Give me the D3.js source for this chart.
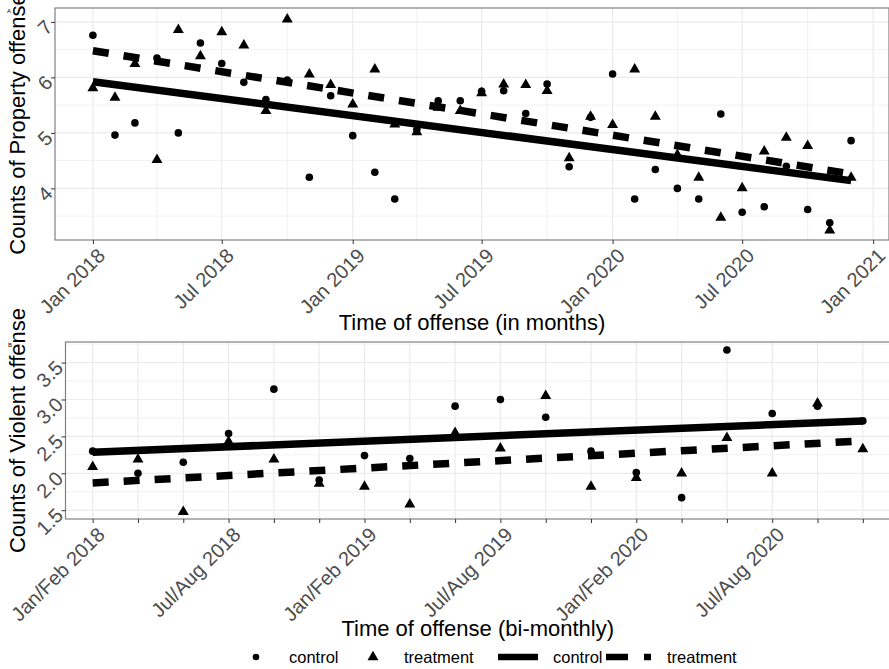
<!DOCTYPE html>
<html><head><meta charset="utf-8">
<script src="https://cdn.jsdelivr.net/npm/d3@7"></script>
<style>
body{margin:0;background:#fff;}
svg{display:block;font-family:"Liberation Sans",Arial,sans-serif;}
</style></head>
<body>
<svg id="chart" width="889" height="669"></svg>
<script>
// ---------- DATA ----------
// Panel A: monthly property offenses, Jan 2018 .. Dec 2020
const monthsA = d3.range(36).map(i => new Date(2018, i, 1));
const propControl = [6.76,4.96,5.18,6.35,5.00,6.62,6.25,5.91,5.60,5.95,4.20,5.67,
                     4.95,4.29,3.81,5.06,5.58,5.58,5.75,5.76,5.35,5.88,4.39,5.28,
                     6.06,3.81,4.34,4.00,3.81,5.34,3.57,3.67,4.40,3.62,3.38,4.86];
const propTreatment = [5.82,5.65,6.26,4.53,6.87,6.40,6.83,6.59,5.41,7.06,6.07,5.88,
                       5.53,6.16,5.17,5.03,5.47,5.41,5.73,5.89,5.88,5.77,4.56,5.31,
                       5.16,6.16,5.31,4.62,4.21,3.49,4.02,4.68,4.93,4.78,3.26,4.21];
const propFitControl = [5.92, 4.14];     // fitted line at first / last month
const propFitTreatment = [6.48, 4.26];
const yTicksA = [4, 5, 6, 7];
const xTicksA = d3.range(7).map(i => new Date(2018, i * 6, 1));

// Panel B: bi-monthly violent offenses
const binsB = ["Jan/Feb 2018","Mar/Apr 2018","May/Jun 2018","Jul/Aug 2018","Sep/Oct 2018","Nov/Dec 2018",
               "Jan/Feb 2019","Mar/Apr 2019","May/Jun 2019","Jul/Aug 2019","Sep/Oct 2019","Nov/Dec 2019",
               "Jan/Feb 2020","Mar/Apr 2020","May/Jun 2020","Jul/Aug 2020","Sep/Oct 2020","Nov/Dec 2020"];
const violControl = [2.30,2.00,2.15,2.54,3.14,1.91,2.24,2.20,2.91,3.00,2.76,2.30,2.01,1.67,3.67,2.81,2.91,2.71];
const violTreatment = [2.10,2.20,1.49,2.44,2.20,1.87,1.83,1.59,2.56,2.35,3.06,1.83,1.95,2.01,2.49,2.01,2.96,2.34];
const violFitControl = [2.285, 2.71];
const violFitTreatment = [1.87, 2.44];
const yTicksB = [1.5, 2.0, 2.5, 3.0, 3.5];
const xLabelsB = ["Jan/Feb 2018","Jul/Aug 2018","Jan/Feb 2019","Jul/Aug 2019","Jan/Feb 2020","Jul/Aug 2020"];

// ---------- DRAW ----------
const svg = d3.select("#chart");
const GRID = "#ebebeb", BORDER = "#808080", TICKC = "#4d4d4d";
const TICKFS = 20, TITLEFS = 22, LW = 7.5;
const triPath = d3.symbol().type(d3.symbolTriangle).size(52)();

function expand(ext, f = 0.05) { const r = ext[1] - ext[0]; return [ext[0] - r * f, ext[1] + r * f]; }

function panelFrame(g, L, R, T, B) {
  g.append("rect").attr("x", L).attr("y", T).attr("width", R - L).attr("height", B - T)
    .attr("fill", "none").attr("stroke", BORDER).attr("stroke-width", 1.2);
}

function drawPoints(g, xs, ys, vals, kind) {
  vals.forEach((v, i) => {
    if (kind === "c") g.append("circle").attr("cx", xs(i)).attr("cy", ys(v)).attr("r", 3.8).attr("fill", "#000");
    else g.append("path").attr("d", triPath).attr("transform", `translate(${xs(i)},${ys(v) + 0.8})`).attr("fill", "#000");
  });
}

function drawFit(g, x0, x1, ys, fit, dashed) {
  g.append("line").attr("x1", x0).attr("x2", x1).attr("y1", ys(fit[0])).attr("y2", ys(fit[1]))
    .attr("stroke", "#000").attr("stroke-width", LW)
    .attr("stroke-dasharray", dashed ? "16,15" : null);
}

function styleXTicks(ax) {
  ax.select(".domain").remove();
  ax.selectAll(".tick line").attr("stroke", "#333");
  ax.selectAll(".tick text").attr("font-size", TICKFS).attr("fill", TICKC).attr("text-anchor", "end")
    .attr("y", 0).attr("dy", "0.7em").attr("transform", "translate(3,7) rotate(-45)");
}
function styleYTicks(ay) {
  ay.select(".domain").remove();
  ay.selectAll(".tick line").attr("stroke", "#333");
  ay.selectAll(".tick text").attr("font-size", TICKFS).attr("fill", TICKC).attr("text-anchor", "end")
    .attr("x", 0).attr("dy", "0.35em").attr("transform", "translate(-6,1) rotate(-45)");
}

// ===== Panel A =====
(function () {
  const L = 55, R = 889, T = 8, B = 240;
  const g = svg.append("g");
  const x = d3.scaleTime().domain(expand([monthsA[0], monthsA[35]].map(d => +d)).map(d => new Date(d))).range([L, R]);
  const y = d3.scaleLinear().domain(expand([d3.min(propTreatment.concat(propControl)), d3.max(propTreatment.concat(propControl))])).range([B, T]);
  const minorX = d3.range(6).map(i => new Date(2018, 3 + i * 6, 1));
  g.selectAll(".mx").data(minorX).join("line").attr("x1", d => x(d)).attr("x2", d => x(d)).attr("y1", T).attr("y2", B)
    .attr("stroke", GRID).attr("stroke-width", 0.7);
  const minorY = [3.5, 4.5, 5.5, 6.5];
  g.selectAll(".my").data(minorY).join("line").attr("x1", L).attr("x2", R).attr("y1", d => y(d)).attr("y2", d => y(d))
    .attr("stroke", GRID).attr("stroke-width", 0.7);
  g.selectAll(".gx").data(xTicksA).join("line").attr("x1", d => x(d)).attr("x2", d => x(d)).attr("y1", T).attr("y2", B)
    .attr("stroke", GRID).attr("stroke-width", 1.2);
  g.selectAll(".gy").data(yTicksA).join("line").attr("x1", L).attr("x2", R).attr("y1", d => y(d)).attr("y2", d => y(d))
    .attr("stroke", GRID).attr("stroke-width", 1.2);

  const xi = i => x(monthsA[i]);
  drawFit(g, xi(0), xi(35), y, propFitControl, false);
  drawFit(g, xi(0), xi(35), y, propFitTreatment, true);
  drawPoints(g, xi, y, propControl, "c");
  drawPoints(g, xi, y, propTreatment, "t");
  panelFrame(g, L, R, T, B);

  styleXTicks(g.append("g").attr("transform", `translate(0,${B})`)
    .call(d3.axisBottom(x).tickValues(xTicksA).tickFormat(d3.timeFormat("%b %Y")).tickSize(4).tickSizeOuter(0)));
  styleYTicks(g.append("g").attr("transform", `translate(${L},0)`)
    .call(d3.axisLeft(y).tickValues(yTicksA).tickFormat(d3.format("d")).tickSize(4).tickSizeOuter(0)));

  svg.append("text").attr("x", (L + R) / 2).attr("y", 330).attr("text-anchor", "middle").attr("font-size", TITLEFS)
    .text("Time of offense (in months)");
  svg.append("text").attr("transform", `translate(25,${(T + B) / 2}) rotate(-90)`).attr("text-anchor", "middle")
    .attr("font-size", TITLEFS).text("Counts of Property offense");
  svg.append("text").attr("x", 7).attr("y", 13).attr("font-size", 6).text("A");
})();

// ===== Panel B =====
(function () {
  const L = 65.5, R = 890, T = 342, B = 519;
  const g = svg.append("g");
  const x = d3.scalePoint().domain(binsB).range([L, R]).padding(0.6);
  const y = d3.scaleLinear().domain(expand([d3.min(violTreatment.concat(violControl)), d3.max(violTreatment.concat(violControl))])).range([B, T]);
  const minorY = [1.75, 2.25, 2.75, 3.25, 3.75].filter(v => y(v) > T);
  g.selectAll(".my").data(minorY).join("line").attr("x1", L).attr("x2", R).attr("y1", d => y(d)).attr("y2", d => y(d))
    .attr("stroke", GRID).attr("stroke-width", 0.7);
  g.selectAll(".gx").data(binsB).join("line").attr("x1", d => x(d)).attr("x2", d => x(d)).attr("y1", T).attr("y2", B)
    .attr("stroke", GRID).attr("stroke-width", 1.2);
  g.selectAll(".gy").data(yTicksB).join("line").attr("x1", L).attr("x2", R).attr("y1", d => y(d)).attr("y2", d => y(d))
    .attr("stroke", GRID).attr("stroke-width", 1.2);

  const xi = i => x(binsB[i]);
  drawFit(g, xi(0), xi(17), y, violFitControl, false);
  drawFit(g, xi(0), xi(17), y, violFitTreatment, true);
  drawPoints(g, xi, y, violControl, "c");
  drawPoints(g, xi, y, violTreatment, "t");
  panelFrame(g, L, R, T, B);

  styleXTicks(g.append("g").attr("transform", `translate(0,${B})`)
    .call(d3.axisBottom(x).tickFormat(d => xLabelsB.includes(d) ? d : "").tickSize(4).tickSizeOuter(0)));
  styleYTicks(g.append("g").attr("transform", `translate(${L},0)`)
    .call(d3.axisLeft(y).tickValues(yTicksB).tickFormat(d3.format(".1f")).tickSize(4).tickSizeOuter(0)));

  svg.append("text").attr("x", (L + R) / 2).attr("y", 636).attr("text-anchor", "middle").attr("font-size", TITLEFS)
    .text("Time of offense (bi-monthly)");
  svg.append("text").attr("transform", `translate(25,${(T + B) / 2}) rotate(-90)`).attr("text-anchor", "middle")
    .attr("font-size", TITLEFS).text("Counts of Violent offense");
  svg.append("text").attr("x", 8).attr("y", 347).attr("font-size", 6).text("B");
})();

// ===== Legend =====
(function () {
  const g = svg.append("g"), ly = 657, fs = 16.5;
  g.append("circle").attr("cx", 256).attr("cy", ly).attr("r", 3.3).attr("fill", "#000");
  g.append("text").attr("x", 289).attr("y", ly + 6).attr("font-size", fs).text("control");
  g.append("path").attr("d", triPath).attr("transform", `translate(373,${ly})`).attr("fill", "#000");
  g.append("text").attr("x", 404).attr("y", ly + 6).attr("font-size", fs).text("treatment");
  g.append("line").attr("x1", 498).attr("x2", 538).attr("y1", ly).attr("y2", ly).attr("stroke", "#000").attr("stroke-width", 6.5);
  g.append("text").attr("x", 553).attr("y", ly + 6).attr("font-size", fs).text("control");
  g.append("line").attr("x1", 606).attr("x2", 652).attr("y1", ly).attr("y2", ly).attr("stroke", "#000").attr("stroke-width", 6.5)
    .attr("stroke-dasharray", "22,16,7,100");
  g.append("text").attr("x", 667).attr("y", ly + 6).attr("font-size", fs).text("treatment");
})();
</script>
</body></html>
